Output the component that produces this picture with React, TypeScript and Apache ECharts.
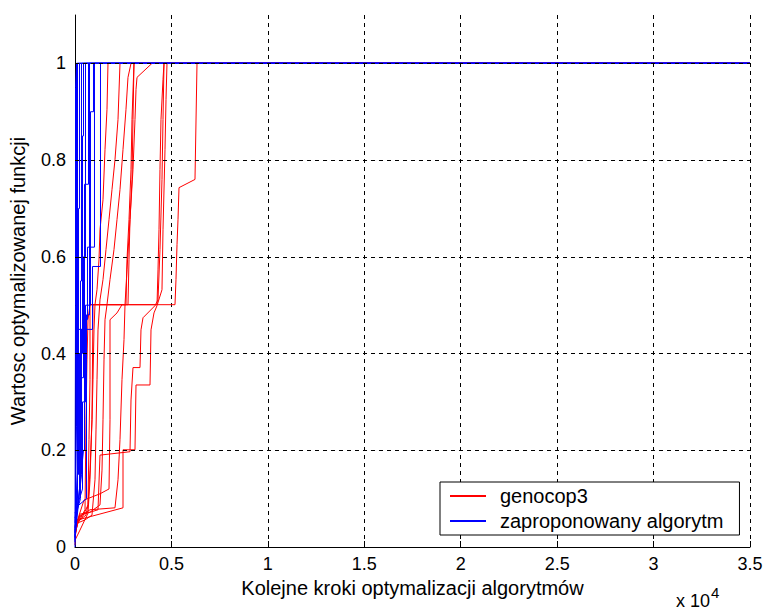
import React, { useEffect, useRef } from "react";
import * as echarts from "echarts";

const FONT = "'Liberation Sans', Arial, sans-serif";

// X tick values (optimization steps) and Y tick values
const xTicks = [0, 5000, 10000, 15000, 20000, 25000, 30000, 35000];
const yTicks = [0, 0.2, 0.4, 0.6, 0.8, 1];

// genocop3 runs: [step, value]
const redRun1 = [[0, 0.035], [104, 0.056], [363, 0.06], [674, 0.087], [778, 0.159], [881, 0.263], [933, 0.346], [985, 0.449], [1037, 0.501], [1141, 0.532], [1244, 0.594], [1296, 0.656], [1452, 0.718], [1556, 0.822], [1659, 0.905], [1711, 1], [35000, 1]];
const redRun2 = [[0, 0.029], [156, 0.05], [519, 0.056], [881, 0.066], [1037, 0.139], [1089, 0.242], [1141, 0.346], [1193, 0.449], [1296, 0.511], [1452, 0.553], [1607, 0.615], [1763, 0.677], [1918, 0.739], [2074, 0.801], [2230, 0.884], [2333, 1], [35000, 1]];
const redRun3 = [[0, 0.039], [259, 0.068], [778, 0.072], [1296, 0.087], [1400, 0.159], [1452, 0.263], [1504, 0.387], [1556, 0.47], [1659, 0.501], [1815, 0.553], [2022, 0.615], [2178, 0.677], [2333, 0.739], [2489, 0.822], [2644, 0.905], [2748, 0.971], [2904, 1], [35000, 1]];
const redRun4 = [[0, 0.019], [104, 0.046], [519, 0.077], [570, 0.263], [622, 0.387], [674, 0.47], [778, 0.501], [2748, 0.501], [2800, 0.594], [2852, 0.677], [2955, 0.76], [3007, 0.884], [3059, 1], [35000, 1]];
const redRun5 = [[0, 0.025], [207, 0.062], [778, 0.077], [2074, 0.081], [2230, 0.139], [2333, 0.222], [2437, 0.346], [2541, 0.429], [2593, 0.501], [2696, 0.573], [2852, 0.677], [3007, 0.781], [3111, 0.884], [3163, 0.946], [3215, 0.971], [3992, 1], [35000, 1]];
const redRun6 = [[0, 0.014], [259, 0.035], [674, 0.07], [778, 0.139], [881, 0.263], [933, 0.501], [4252, 0.501], [4304, 0.573], [4356, 0.656], [4407, 0.781], [4459, 0.884], [4563, 0.967], [4615, 1], [35000, 1]];
const redRun7 = [[0, 0.023], [156, 0.056], [2489, 0.081], [2489, 0.201], [3111, 0.201], [3163, 0.335], [3889, 0.335], [3941, 0.449], [4096, 0.484], [4252, 0.499], [4511, 0.532], [4563, 0.656], [4667, 0.822], [4719, 0.925], [4770, 1], [35000, 1]];
const redRun8 = [[0, 0.043], [311, 0.066], [1193, 0.077], [1296, 0.19], [2852, 0.197], [2904, 0.304], [3007, 0.371], [3370, 0.371], [3422, 0.449], [3526, 0.474], [4148, 0.499], [4304, 0.511], [4407, 0.615], [4511, 0.76], [4563, 0.884], [4615, 1], [35000, 1]];
const redRun9 = [[0, 0.041], [259, 0.056], [570, 0.066], [674, 0.087], [726, 0.222], [778, 0.346], [778, 0.501], [5185, 0.501], [5237, 0.553], [5289, 0.625], [5341, 0.677], [5393, 0.743], [6222, 0.76], [6326, 1], [35000, 1]];
const redRun10 = [[0, 0.004], [52, 0.046], [467, 0.097], [1296, 0.11], [1763, 0.12], [1815, 0.263], [1815, 0.47], [2178, 0.484], [2437, 0.501], [2644, 0.501], [2696, 0.594], [2800, 0.677], [2904, 0.781], [2955, 0.884], [3059, 1], [35000, 1]];

// proposed algorithm runs: [step, value]
const blueRun1 = [[0, 0.01], [78, 0.25], [78, 1], [35000, 1]];
const blueRun2 = [[0, 0.03], [78, 0.1], [130, 0.1], [130, 1], [35000, 1]];
const blueRun3 = [[0, 0.02], [130, 0.15], [181, 0.15], [181, 0.7], [233, 0.7], [233, 1], [35000, 1]];
const blueRun4 = [[0, 0.05], [181, 0.2], [285, 0.2], [285, 0.55], [337, 0.55], [337, 1], [35000, 1]];
const blueRun5 = [[0, 0.04], [233, 0.12], [233, 0.4], [389, 0.4], [389, 0.85], [441, 0.85], [441, 1], [35000, 1]];
const blueRun6 = [[0, 0.06], [285, 0.1], [285, 0.35], [441, 0.35], [441, 0.6], [544, 0.6], [544, 1], [35000, 1]];
const blueRun7 = [[0, 0.02], [337, 0.15], [337, 0.45], [493, 0.45], [493, 0.75], [700, 0.75], [700, 1], [35000, 1]];
const blueRun8 = [[0, 0.07], [389, 0.12], [389, 0.3], [544, 0.3], [544, 0.5], [804, 0.5], [804, 0.9], [959, 0.9], [959, 1], [35000, 1]];
const blueRun9 = [[0, 0.03], [441, 0.2], [493, 0.2], [493, 0.47], [648, 0.47], [648, 0.62], [1011, 0.62], [1011, 1], [35000, 1]];
const blueRun10 = [[0, 0.015], [130, 0.1], [130, 0.45], [907, 0.45], [907, 0.58], [1322, 0.58], [1322, 1], [35000, 1]];
const blueRun11 = [[0, 0], [26, 0.5], [26, 0.95], [78, 1], [35000, 1]];
const blueRun12 = [[0, 0.08], [596, 0.1], [596, 0.48], [752, 0.48], [752, 1], [35000, 1]];

const redRuns = [redRun1, redRun2, redRun3, redRun4, redRun5, redRun6, redRun7, redRun8, redRun9, redRun10];
const blueRuns = [blueRun1, blueRun2, blueRun3, blueRun4, blueRun5, blueRun6, blueRun7, blueRun8, blueRun9, blueRun10, blueRun11, blueRun12];

const RED_NAME = "genocop3";
const BLUE_NAME = "zaproponowany algorytm";

export default function App() {
  const ref = useRef<HTMLDivElement>(null);
  useEffect(() => {
    if (!ref.current) return;
    const chart = echarts.init(ref.current, null, { renderer: "svg" });
    const dash = { type: [4, 4], color: "#000", width: 1 };
    const mkSeries = (data: number[][], name: string, color: string) => ({
      type: "line",
      name,
      data,
      showSymbol: false,
      symbol: "none",
      z: 3,
      lineStyle: { color, width: 1 },
      itemStyle: { color },
      emphasis: { disabled: true },
    });
    chart.setOption({
      animation: false,
      backgroundColor: "#fff",
      textStyle: { fontFamily: FONT },
      grid: { left: 75, right: 16, top: 15, bottom: 63 },
      legend: {
        data: [RED_NAME, BLUE_NAME],
        orient: "vertical",
        left: 440,
        top: 482,
        padding: [4, 16, 4, 10],
        itemGap: 5,
        itemWidth: 36,
        itemHeight: 2,
        icon: "rect",
        borderColor: "#000",
        borderWidth: 1,
        borderRadius: 0,
        backgroundColor: "#fff",
        selectedMode: false,
        textStyle: { fontFamily: FONT, fontSize: 20, color: "#000", padding: [0, 0, 0, 9] },
      },
      xAxis: {
        type: "value",
        min: 0,
        max: 35000,
        interval: 5000,
        name: "Kolejne kroki optymalizacji algorytmów",
        nameLocation: "middle",
        nameGap: 31,
        nameTextStyle: { fontFamily: FONT, fontSize: 20, color: "#000" },
        axisLine: { show: true, lineStyle: { color: "#000", width: 1 } },
        axisTick: { show: true, inside: true, length: 6, lineStyle: { color: "#000" } },
        axisLabel: {
          color: "#000",
          fontFamily: FONT,
          fontSize: 18,
          margin: 8,
          formatter: (v: number) => String(v / 10000),
        },
        splitLine: { show: true, lineStyle: dash },
      },
      yAxis: {
        type: "value",
        min: 0,
        max: 1.1,
        interval: 0.2,
        name: "Wartosc optymalizowanej funkcji",
        nameLocation: "middle",
        nameGap: 47,
        nameTextStyle: { fontFamily: FONT, fontSize: 20, color: "#000" },
        axisLine: { show: true, lineStyle: { color: "#000", width: 1 } },
        axisTick: { show: true, inside: true, length: 6, customValues: yTicks, lineStyle: { color: "#000" } },
        axisLabel: {
          color: "#000",
          fontFamily: FONT,
          fontSize: 18,
          margin: 9,
          customValues: yTicks,
          formatter: (v: number) => (Math.abs(v - 1.1) < 1e-6 ? "" : String(Math.round(v * 10) / 10)),
        },
        splitLine: { show: false },
      },
      graphic: [
        {
          type: "text",
          left: 676,
          top: 585,
          style: {
            text: "{a|x 10}{b|4}",
            rich: {
              a: { fontFamily: FONT, fontSize: 18, fill: "#000", verticalAlign: "bottom" },
              b: { fontFamily: FONT, fontSize: 15, fill: "#000", verticalAlign: "top", padding: [0, 0, 10, 1] },
            },
          },
        },
      ],
      series: [
        {
          type: "line",
          name: "grid",
          data: [],
          z: 1,
          silent: true,
          markLine: {
            silent: true,
            symbol: "none",
            label: { show: false },
            lineStyle: dash,
            data: yTicks.filter((v) => v > 0).map((v) => ({ yAxis: v })),
          },
        },
        ...redRuns.map((r) => mkSeries(r, RED_NAME, "#ff0000")),
        ...blueRuns.map((r) => mkSeries(r, BLUE_NAME, "#0000ff")),
      ],
    });
    return () => chart.dispose();
  }, []);
  return (
    <div
      ref={ref}
      style={{ position: "fixed", left: 0, top: 0, width: 766, height: 610, background: "#fff" }}
    />
  );
}
